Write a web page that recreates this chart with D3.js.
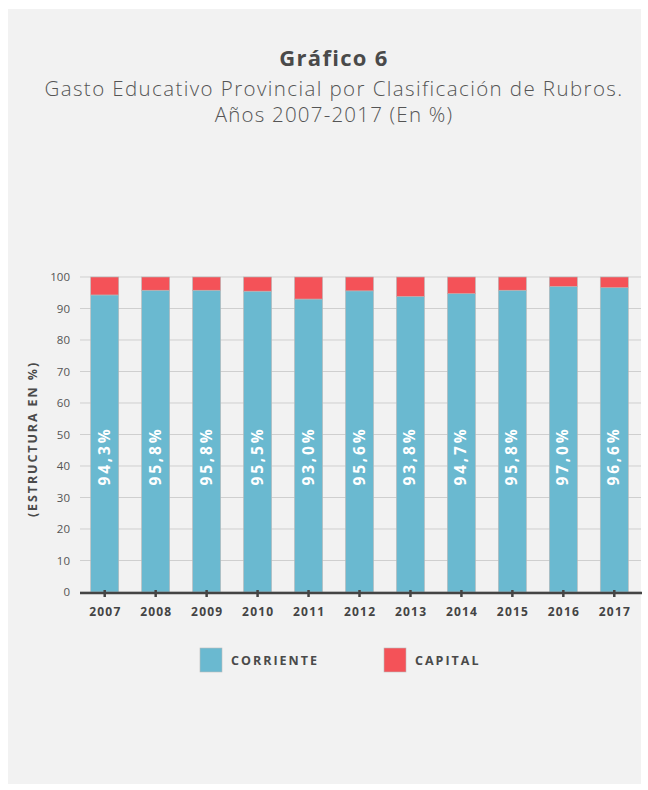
<!DOCTYPE html>
<html>
<head>
<meta charset="utf-8">
<script src="https://cdn.jsdelivr.net/npm/d3@7"></script>
<style>
  body { margin: 0; background: #fff; }
  svg { display: block; font-family: 'Open Sans', sans-serif; }
</style>
</head>
<body>
<svg id="chart" width="648" height="790"></svg>
<script>
const years = ['2007', '2008', '2009', '2010', '2011', '2012', '2013', '2014', '2015', '2016', '2017'];
const corriente = [94.3, 95.8, 95.8, 95.5, 93.0, 95.6, 93.8, 94.7, 95.8, 97.0, 96.6];
const capital = [5.7, 4.2, 4.2, 4.5, 7.0, 4.4, 6.2, 5.3, 4.2, 3.0, 3.4];
const labels = ['94,3%', '95,8%', '95,8%', '95,5%', '93,0%', '95,6%', '93,8%', '94,7%', '95,8%', '97,0%', '96,6%'];
const yTicks = [0, 10, 20, 30, 40, 50, 60, 70, 80, 90, 100];
const seriesNames = ['CORRIENTE', 'CAPITAL'];
const colors = ['#6ab9d0', '#f45258'];

const svg = d3.select('#chart');

svg.append('rect')
    .attr('x', 8).attr('y', 9)
    .attr('width', 633).attr('height', 775)
    .attr('fill', '#f2f2f2');

// titles (letter-spacing adds a trailing gap, so x is nudged right)
svg.append('text')
    .attr('x', 334).attr('y', 66)
    .attr('text-anchor', 'middle')
    .attr('font-size', 22).attr('font-weight', 700)
    .attr('letter-spacing', 1.3)
    .attr('fill', '#4a4a4a')
    .text('Gráfico 6');
svg.append('text')
    .attr('x', 334).attr('y', 96)
    .attr('text-anchor', 'middle')
    .attr('font-size', 20.5).attr('font-weight', 300)
    .attr('letter-spacing', 1.4)
    .attr('fill', '#555')
    .text('Gasto Educativo Provincial por Clasificación de Rubros.');
svg.append('text')
    .attr('x', 334).attr('y', 122)
    .attr('text-anchor', 'middle')
    .attr('font-size', 20.5).attr('font-weight', 300)
    .attr('letter-spacing', 1.2)
    .attr('fill', '#555')
    .text('Años 2007-2017 (En %)');

const x = d3.scaleBand()
    .domain(years)
    .range([80, 639])
    .paddingInner(0.45)
    .paddingOuter(0.21);

const y = d3.scaleLinear()
    .domain([0, 100])
    .range([592, 277]);

// grid
svg.append('g')
    .selectAll('line')
    .data(yTicks)
    .enter().append('line')
    .attr('x1', 80).attr('x2', 641)
    .attr('y1', d => y(d)).attr('y2', d => y(d))
    .attr('stroke', '#cfcfcf')
    .attr('stroke-width', 1);

const yAxis = svg.append('g')
    .attr('transform', 'translate(70,0)')
    .call(d3.axisLeft(y).tickValues(yTicks).tickSize(0).tickPadding(0));
yAxis.select('.domain').remove();
yAxis.selectAll('text')
    .attr('font-family', "'Open Sans', sans-serif")
    .attr('font-size', 11.5)
    .attr('fill', '#555');

svg.append('text')
    .attr('transform', 'translate(37,439) rotate(-90)')
    .attr('text-anchor', 'middle')
    .attr('font-size', 12.5).attr('font-weight', 700)
    .attr('letter-spacing', 1.9)
    .attr('fill', '#4a4a4a')
    .text('(ESTRUCTURA EN %)');

// stacked bars
const rows = years.map((yr, i) => ({ year: yr, corriente: corriente[i], capital: capital[i] }));
const stack = d3.stack().keys(['corriente', 'capital'])(rows);

svg.append('g')
    .selectAll('g')
    .data(stack)
    .enter().append('g')
    .attr('fill', (d, i) => colors[i])
    .selectAll('rect')
    .data(d => d)
    .enter().append('rect')
    .attr('x', d => x(d.data.year))
    .attr('y', d => y(d[1]))
    .attr('width', x.bandwidth())
    .attr('height', d => y(d[0]) - y(d[1]))
    .attr('stroke', '#b8b8b8')
    .attr('stroke-width', 0.6);

// value labels
svg.append('g')
    .selectAll('text')
    .data(years)
    .enter().append('text')
    .attr('transform', d => `translate(${x(d) + x.bandwidth() / 2 + 5},456) rotate(-90)`)
    .attr('text-anchor', 'middle')
    .attr('font-size', 15.5).attr('font-weight', 700)
    .attr('letter-spacing', 2.8)
    .attr('fill', '#fff')
    .text((d, i) => labels[i]);

// x axis
const xAxis = svg.append('g')
    .attr('transform', 'translate(0,593)')
    .call(d3.axisBottom(x).tickSizeInner(0).tickSizeOuter(0).tickPadding(14));
xAxis.select('.domain').remove();
xAxis.append('line')
    .attr('x1', 80).attr('x2', 642)
    .attr('stroke', '#444').attr('stroke-width', 2.5);
xAxis.selectAll('.tick').append('line')
    .attr('y1', -3).attr('y2', 4)
    .attr('stroke', '#444').attr('stroke-width', 2.5);
xAxis.selectAll('.tick text')
    .attr('x', 0.6)
    .attr('font-family', "'Open Sans', sans-serif")
    .attr('font-size', 12).attr('font-weight', 700)
    .attr('letter-spacing', 1.2)
    .attr('fill', '#444');

// legend
const legendX = [200, 384];
const legend = svg.append('g')
    .selectAll('g')
    .data(seriesNames)
    .enter().append('g')
    .attr('transform', (d, i) => `translate(${legendX[i]},648)`);
legend.append('rect')
    .attr('width', 22).attr('height', 24)
    .attr('fill', (d, i) => colors[i])
    .attr('stroke', '#bbb').attr('stroke-width', 0.6);
legend.append('text')
    .attr('x', 31).attr('y', 16.5)
    .attr('font-size', 12.5).attr('font-weight', 700)
    .attr('letter-spacing', 2)
    .attr('fill', '#4a4a4a')
    .text(d => d);
</script>
</body>
</html>
